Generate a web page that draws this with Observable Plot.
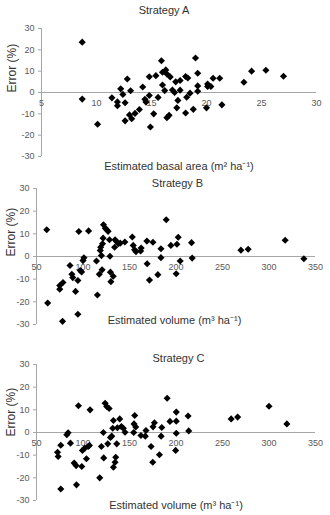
<!DOCTYPE html>
<html>
<head>
<meta charset="utf-8">
<script src="https://cdn.jsdelivr.net/npm/d3@7"></script>
<script src="https://cdn.jsdelivr.net/npm/@observablehq/plot@0.6"></script>
<style>
  body { margin: 0; background: #fff; }
  #wrap { position: relative; width: 330px; height: 515px; background: #fff; overflow: hidden; }
  #wrap svg { position: absolute; left: 0; }
</style>
</head>
<body>
<div id="wrap"></div>
<script>
// ---------- Data ----------
const yTicks = [-30, -20, -10, 0, 10, 20, 30];
const yLabel = "Error (%)";

// Strategy A
const titleA = "Strategy A";
const xTitleA = "Estimated basal area (m² ha⁻¹)";
const xTicksA = [5, 10, 15, 20, 25, 30];
const basalA = [8.7, 8.7, 10.1, 11.4, 11.9, 11.9, 12.2, 12.4, 12.6, 12.8, 12.6, 13.1, 13.0, 13.2, 13.5, 13.9, 14.2, 14.4, 14.5, 14.8, 14.8, 14.9, 15.2, 15.4, 15.6, 15.9, 16.0, 16.0, 16.2, 16.3, 16.4, 16.4, 16.6, 16.7, 16.9, 17.1, 17.2, 17.3, 17.4, 17.6, 17.6, 18.1, 18.2, 18.1, 18.3, 18.5, 18.8, 19.0, 19.2, 19.2, 19.2, 20.0, 20.1, 20.1, 20.4, 20.6, 21.2, 21.4, 23.4, 24.1, 25.4, 27.0];
const errorA = [23.6, -3.1, -14.9, -2.5, -4.4, -6.2, 1.7, -0.9, -4.8, 6.3, -13.3, 0.8, -10.5, -12.3, -9.8, -8.0, 2.6, -3.2, -4.5, 7.4, -1.4, -16.2, -10.0, 7.9, -2.3, 14.9, 3.5, 9.5, 0.9, 10.6, 8.7, -11.8, -10.7, 7.3, 1.2, 0.0, 5.0, -7.2, -3.7, 5.6, 1.1, 7.5, -2.2, -9.6, 6.8, -0.3, -7.9, 16.2, 9.0, 3.1, 0.6, -7.2, 2.8, 4.0, 2.8, 6.7, 6.7, -5.8, 4.8, 10.0, 10.4, 7.6];

// Strategy B
const titleB = "Strategy B";
const xTitleVol = "Estimated volume (m³ ha⁻¹)";
const xTicksVol = [50, 100, 150, 200, 250, 300, 350];
const volumeB = [61, 62, 75, 75, 78.5, 78, 86, 88, 89, 92, 94.5, 94.5, 95.5, 97, 98.5, 100, 101, 106, 114.5, 115.5, 117.5, 118.6, 119, 119.8, 120.5, 121, 121.6, 122, 124, 125.5, 127, 128.5, 129, 129.5, 130, 132.5, 134, 134.5, 136, 138, 140, 145, 153, 154, 155.5, 157, 162, 162.5, 168.7, 169, 171.5, 175.2, 180.5, 183.8, 183.8, 189.5, 194.5, 200.2, 201, 202.4, 204.5, 216.7, 217.4, 269.8, 277.6, 317.4, 337.5];
const errorB = [11.8, -20.5, -12.8, -14.4, -11.5, -28.6, -4.0, -7.8, -9.3, -15.4, -10.6, -25.5, 11.0, -6.2, -6.8, -1.8, -0.6, 11.3, -2.0, -17.0, -7.8, 2.7, 4.1, 0.4, -5.9, 5.6, 8.1, 14.0, 12.5, 11.8, 11.1, 7.4, 0.1, -6.9, -11.1, -8.7, 4.1, 7.4, 6.6, 5.6, 5.9, 6.4, 8.6, 4.9, 3.0, 2.1, 2.4, 3.7, 6.8, -3.2, -10.4, 6.3, -8.0, 3.4, -0.5, 16.2, 4.9, -7.6, 5.4, 8.5, -2.0, 6.1, -0.7, 2.8, 3.2, 7.2, -1.0];

// Strategy C
const titleC = "Strategy C";
const volumeC = [72.6, 73.3, 76.1, 76.1, 82.6, 84, 86.5, 90.5, 92.6, 93, 95.1, 98.7, 99.4, 101.9, 103.7, 105.5, 107.6, 106.9, 118, 119.8, 121.9, 122.3, 123.8, 125.5, 126.6, 128.1, 129.5, 130.9, 132, 132.7, 132.7, 134.5, 135.2, 136.3, 137, 139.5, 141.3, 143.4, 145.2, 154.5, 154.9, 155.6, 156.7, 162.3, 167.7, 167, 173.2, 175, 175.3, 176.8, 182.2, 184.7, 184, 190.5, 193.5, 200.3, 200.3, 199.6, 200.3, 213, 213.7, 259.3, 266.3, 300, 319.2];
const errorC = [-8.7, -10.6, -5.6, -24.9, -1.0, -0.1, -4.7, -13.5, -14.6, -23.1, 11.8, -15.0, -7.9, -6.9, -11.6, -6.2, 10.0, -5.7, -20.0, -6.2, 0.0, -11.2, 12.9, 11.5, -5.0, 10.6, -2.2, -1.6, 1.9, 5.3, -15.3, -13.1, -10.9, -5.0, 2.1, 6.0, 2.6, 1.9, 0.1, 0.0, 3.8, 7.5, 2.4, -1.3, 0.9, -1.6, -6.2, -13.1, 2.5, 4.3, -9.8, 2.2, -1.6, 15.1, 4.9, 5.0, 9.0, -7.9, -0.3, 7.3, 0.7, 6.0, 6.8, 11.6, 3.8];

// ---------- Styling ----------
const FONT = "'Liberation Sans', Arial, Helvetica, sans-serif";
const AXIS = "#a6a6a6";
const TICKTXT = "#595959";
const TITLE = "#333333";

function panel(cfg) {
  const pts = cfg.xs.map((x, i) => ({x, y: cfg.ys[i]}));
  const svg = Plot.plot({
    width: 330,
    height: cfg.height,
    marginTop: cfg.mt,
    marginBottom: cfg.mb,
    marginLeft: cfg.ml,
    marginRight: cfg.mr,
    x: {domain: cfg.xDomain, axis: null},
    y: {domain: [-30, 30], axis: null},
    style: {fontFamily: FONT, background: "transparent", overflow: "visible"},
    marks: [
      Plot.ruleX([cfg.xDomain[0]], {stroke: AXIS, strokeWidth: 1}),
      Plot.ruleY([0], {stroke: AXIS, strokeWidth: 1}),
      Plot.axisY(yTicks, {tickSize: 3, tickPadding: 4, stroke: AXIS, fill: TICKTXT, fontSize: 9, tickFormat: d => String(d), label: null}),
      Plot.text(cfg.xTicks, {x: d => d, y: 0, dy: 11, text: d => String(d), fill: TICKTXT, fontSize: 9}),
      Plot.dot(pts, {x: "x", y: "y", symbol: "diamond2", r: 3.2, fill: "#000", stroke: "none"}),
      Plot.text([cfg.title], {frameAnchor: "top", lineAnchor: "middle", dx: cfg.tDx, dy: cfg.tDy, fill: TITLE, fontSize: 11}),
      Plot.text([cfg.xTitle], {frameAnchor: "bottom", lineAnchor: "middle", dx: cfg.xtDx, dy: cfg.xtDy, fill: TITLE, fontSize: 11}),
      Plot.text([yLabel], {frameAnchor: "left", lineAnchor: "middle", rotate: -90, dx: cfg.ytDx, dy: cfg.ytDy, fill: TITLE, fontSize: 12})
    ]
  });
  svg.style.top = cfg.top + "px";
  return svg;
}

const wrap = document.getElementById("wrap");
wrap.appendChild(panel({
  xs: basalA, ys: errorA, xDomain: [5, 30], xTicks: xTicksA,
  title: titleA, xTitle: xTitleA,
  top: 0, height: 172, mt: 28, mb: 16, ml: 41, mr: 14,
  tDx: -15, tDy: -18, xtDx: 0, xtDy: 10, ytDx: -29, ytDy: 0
}));
wrap.appendChild(panel({
  xs: volumeB, ys: errorB, xDomain: [50, 350], xTicks: xTicksVol,
  title: titleB, xTitle: xTitleVol,
  top: 172, height: 172, mt: 16, mb: 20, ml: 36, mr: 15,
  tDx: 1.5, tDy: -5, xtDx: -1.5, xtDy: -4, ytDx: -25, ytDy: 0
}));
wrap.appendChild(panel({
  xs: volumeC, ys: errorC, xDomain: [50, 350], xTicks: xTicksVol,
  title: titleC, xTitle: xTitleVol,
  top: 344, height: 171, mt: 20, mb: 15, ml: 36, mr: 15,
  tDx: 2.5, tDy: -6, xtDx: 0, xtDy: 5, ytDx: -25, ytDy: 4
}));
</script>
</body>
</html>
